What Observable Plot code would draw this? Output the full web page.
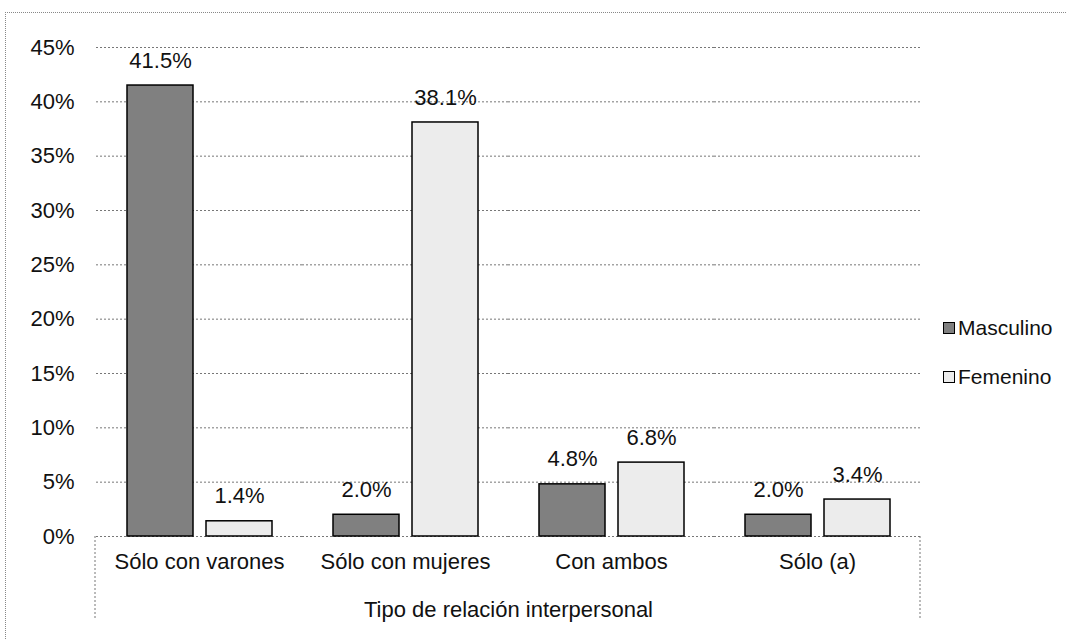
<!DOCTYPE html>
<html>
<head>
<meta charset="utf-8">
<script src="https://cdn.jsdelivr.net/npm/d3@7"></script>
<script src="https://cdn.jsdelivr.net/npm/@observablehq/plot@0.6"></script>
<style>
  html, body { margin: 0; padding: 0; background: #fff; }
  #wrap { position: relative; width: 1070px; height: 640px; font-family: "Liberation Sans", Arial, sans-serif; }
  #frame { position: absolute; left: 5px; top: 12px; width: 1060px; height: 628px; border-top: 1px dotted #888; border-left: 1px dotted #888; pointer-events: none; }
  #legend { position: absolute; left: 943px; top: 314px; font-size: 21px; color: #111; }
  .item { display: flex; align-items: center; height: 28px; margin-bottom: 21px; }
  .sw { width: 10px; height: 10px; border: 1px solid #000; margin-right: 3px; }
</style>
</head>
<body>
<div id="wrap"><div id="chart"></div><div id="frame"></div><div id="legend"></div></div>
<script>
const categories = ["Sólo con varones", "Sólo con mujeres", "Con ambos", "Sólo (a)"];
const series = ["Masculino", "Femenino"];
const masculino = [41.5, 2.0, 4.8, 2.0];
const femenino = [1.4, 38.1, 6.8, 3.4];
const yTicks = [0, 5, 10, 15, 20, 25, 30, 35, 40, 45];
const colors = {"Masculino": "#808080", "Femenino": "#ececec"};

const data = [];
categories.forEach((c, i) => {
  data.push({cat: c, sex: "Masculino", v: masculino[i]});
  data.push({cat: c, sex: "Femenino", v: femenino[i]});
});

const W = 1070, H = 640, mL = 95, mR = 150, mT = 47, mB = 104;
const FS = 22;

const chart = Plot.plot({
  width: W, height: H,
  marginLeft: mL, marginRight: mR, marginTop: mT, marginBottom: mB,
  style: {fontFamily: "'Liberation Sans', Arial, sans-serif", fontSize: FS + "px", color: "#111", background: "#fff"},
  fx: {domain: categories, padding: 0},
  x: {domain: series, paddingInner: 0.165, paddingOuter: 0.386, axis: null},
  y: {domain: [0, 45]},
  marks: [
    Plot.ruleY(yTicks, {stroke: "#777", strokeDasharray: "2,2", strokeWidth: 1}),
    Plot.barY(data, {fx: "cat", x: "sex", y: "v", fill: d => colors[d.sex], stroke: "#000", strokeWidth: 1.5}),
    Plot.text(data, {fx: "cat", x: "sex", y: "v", text: d => d.v.toFixed(1) + "%", dy: -25, fontSize: FS, fill: "#111"}),
    Plot.axisY(yTicks, {tickSize: 0, tickPadding: 22, tickFormat: d => d + "%", fontSize: FS, label: null}),
    Plot.axisFx({anchor: "bottom", tickSize: 0, tickPadding: 17, fontSize: FS, label: "Tipo de relación interpersonal", labelAnchor: "center", labelOffset: 80})
  ]
});
document.getElementById("chart").appendChild(chart);

// axis box lines
const svg = d3.select(chart);
[mL, W - mR].forEach(x => {
  svg.append("line").attr("x1", x).attr("x2", x).attr("y1", H - mB).attr("y2", H - 20)
    .attr("stroke", "#777").attr("stroke-dasharray", "2,2");
});

const leg = document.getElementById("legend");
series.forEach(s => {
  const it = document.createElement("div"); it.className = "item";
  const sw = document.createElement("div"); sw.className = "sw"; sw.style.background = colors[s];
  const t = document.createElement("span"); t.textContent = s;
  it.appendChild(sw); it.appendChild(t); leg.appendChild(it);
});
</script>
</body>
</html>
